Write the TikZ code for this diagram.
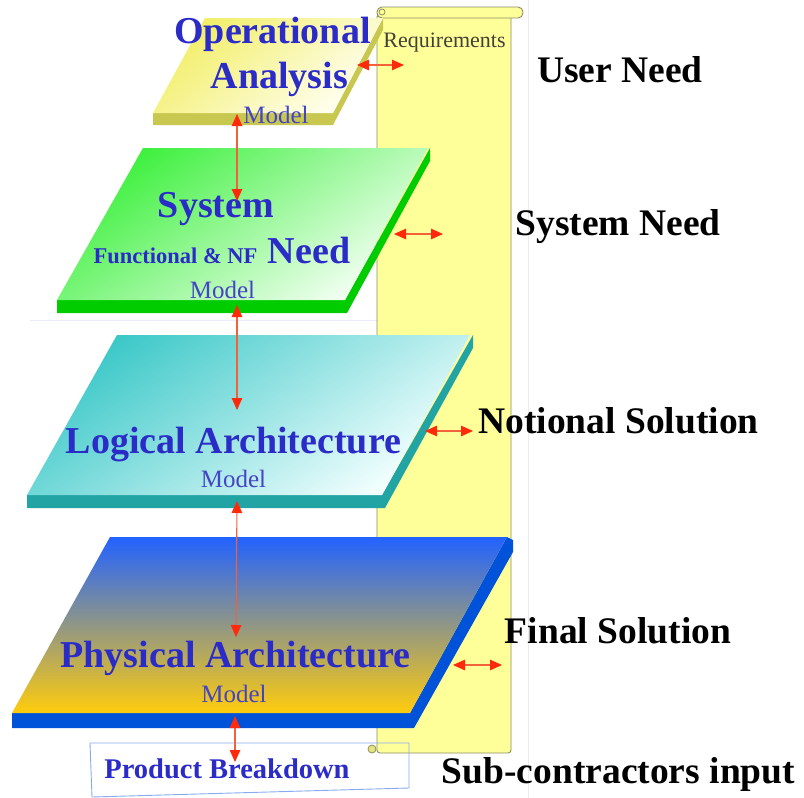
\documentclass[tikz,border=0pt]{standalone}
\usepackage{fontspec}
\setmainfont{Liberation Serif}
\usetikzlibrary{arrows.meta}
\definecolor{arrred}{HTML}{FF2A0A}
\definecolor{arrline}{HTML}{F2603C}
\definecolor{titleblue}{HTML}{2B2BC8}
\definecolor{modelblue}{HTML}{4444C4}
\definecolor{scrollfill}{HTML}{FFFF99}
\definecolor{scrollline}{HTML}{8C8C66}
\definecolor{yelA}{HTML}{F2EE66}
\definecolor{yelB}{HTML}{FFFFF2}
\definecolor{yelS}{HTML}{C8C850}
\definecolor{grnA}{HTML}{3CF03C}
\definecolor{grnB}{HTML}{F4FFF4}
\definecolor{grnS}{HTML}{00CC00}
\definecolor{tealA}{HTML}{3CC8C8}
\definecolor{tealB}{HTML}{F4FFFF}
\definecolor{tealS}{HTML}{22A4A4}
\definecolor{bluA}{HTML}{2262FF}
\definecolor{bluM}{HTML}{A498B8}
\definecolor{bluB}{HTML}{FFCC0C}
\definecolor{bluS}{HTML}{0052D8}
\definecolor{boxline}{HTML}{88AAF0}
\begin{document}
\begin{tikzpicture}[x=1pt,y=-1pt,
  bigtitle/.style={font=\bfseries\fontsize{38}{40}\selectfont, text=titleblue, inner sep=0pt, anchor=base},
  smalltitle/.style={font=\bfseries\fontsize{22.5}{24}\selectfont, text=titleblue, inner sep=0pt, anchor=base},
  modeltext/.style={font=\fontsize{25}{26}\selectfont, text=modelblue, inner sep=0pt, anchor=base},
  sidelabel/.style={font=\bfseries\fontsize{37.5}{40}\selectfont, text=black, inner sep=0pt, anchor=base},
  reqtext/.style={font=\fontsize{22}{24}\selectfont, text=black!85!yellow, inner sep=0pt, anchor=base},
  dbl/.style={{Triangle[length=12pt,width=10.5pt,color=arrred]}-{Triangle[length=12pt,width=10.5pt,color=arrred]}, draw=arrline, line width=1.1pt},
  scrollstyle/.style={draw=scrollline, fill=scrollfill, line width=0.9pt}
]
\useasboundingbox (0,0) rectangle (804,798);
\fill[white] (0,0) rectangle (804,798);
% faint background lines
\draw[black!8, line width=1pt] (528,0) -- (528,798);
\draw[blue!8, line width=1pt] (30,320) -- (490,320);
% scroll
\draw[scrollstyle, rounded corners=3pt] (377,14) rectangle (511,753);
\draw[scrollstyle, rounded corners=5pt] (377,7) rectangle (523,18);
\draw[scrollline, line width=0.8pt, fill=scrollfill] (382,12) circle (3);
\draw[scrollline, line width=0.8pt, fill=scrollfill!80!olive] (372,749) circle (4);
% yellow plate
\fill[yelS] (153,113) -- (153,125) -- (333,125) -- (383,30) -- (383,18) -- (333,113) -- cycle;
\shade[top color=yelA, bottom color=yelB, shading angle=40] (205,18) -- (383,18) -- (333,113) -- (153,113) -- cycle;
% green plate
\fill[grnS] (57,300) -- (57,313) -- (347,313) -- (430,161) -- (430,148) -- (345,300) -- cycle;
\shade[top color=grnA, bottom color=grnB, shading angle=35] (143,148) -- (428,148) -- (345,300) -- (57,300) -- cycle;
% teal plate
\fill[tealS] (27,495) -- (27,508) -- (385,508) -- (473,348) -- (473,335) -- (382,495) -- cycle;
\shade[top color=tealA, bottom color=tealB, shading angle=35] (117,335) -- (470,335) -- (382,495) -- (27,495) -- cycle;
% blue plate
\fill[bluS] (12,713) -- (12,728) -- (414,728) -- (513,552) -- (513,540) -- (507,537) -- (410,713) -- cycle;
\shade[top color=bluA, middle color=bluM, bottom color=bluB] (110,537) -- (507,537) -- (410,713) -- (12,713) -- cycle;
% product breakdown box
\draw[boxline, line width=0.9pt] (90,743) -- (409,743) -- (409,788) -- (92,797) -- cycle;
% texts
\node[bigtitle] (op) at (272.5,43) {Operational};
\node[bigtitle] (an) at (279.5,88) {Analysis};
\node[modeltext] (m1) at (276,123) {Model};
\node[bigtitle] (sys) at (216,217) {System};
\node[smalltitle] (fnf) at (175.5,263) {Functional \& NF};
\node[bigtitle] (need) at (309,263) {Need};
\node[modeltext] (m2) at (222.5,298) {Model};
\node[bigtitle] (la) at (233.5,453) {Logical Architecture};
\node[modeltext] (m3) at (233.5,487) {Model};
\node[bigtitle] (pa) at (235.5,667) {Physical Architecture};
\node[modeltext] (m4) at (234,702) {Model};
\node[font=\bfseries\fontsize{28.5}{30}\selectfont, text=titleblue, inner sep=0pt, anchor=base] (pb) at (227,778) {Product Breakdown};
\node[reqtext] (req) at (444.5,47) {Requirements};
\node[sidelabel] (un) at (620,82) {User Need};
\node[sidelabel] (sn) at (618,235) {System Need};
\node[sidelabel] (ns) at (618.5,433) {Notional Solution};
\node[sidelabel] (fs) at (618,643) {Final Solution};
\node[sidelabel] (sc) at (618.5,783) {Sub-contractors input};
% connector end points
\coordinate (oaB) at (237,114);
\coordinate (snT) at (237,201);
\coordinate (snB) at (237,305);
\coordinate (laT) at (237,410);
\coordinate (laB) at (237,501);
\coordinate (paT) at (236,637);
\coordinate (paB) at (235,716);
\coordinate (pbT) at (235,762);
\coordinate (oaR) at (357,65);
\coordinate (oaQ) at (404,65);
\coordinate (snR) at (394,234);
\coordinate (snQ) at (443,234);
\coordinate (laR) at (425,431);
\coordinate (laQ) at (473,431);
\coordinate (paR) at (453,665);
\coordinate (paQ) at (502,665);
% arrows
\draw[dbl] (oaB) -- (snT);
\draw[dbl] (snB) -- (laT);
\draw[dbl] (laB) -- (paT);
\draw[dbl] (paB) -- (pbT);
\draw[dbl] (oaR) -- (oaQ);
\draw[dbl] (snR) -- (snQ);
\draw[dbl] (laR) -- (laQ);
\draw[dbl] (paR) -- (paQ);
\end{tikzpicture}
\end{document}
